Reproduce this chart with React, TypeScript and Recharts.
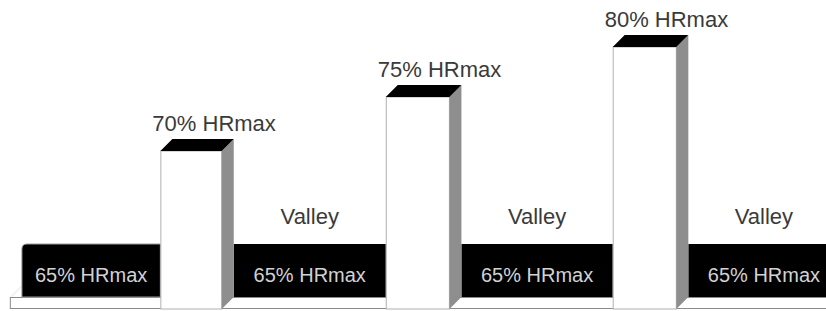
import React from 'react';
import { ComposedChart, XAxis, YAxis, ReferenceArea } from 'recharts';

// Interval profile: alternating valley (65% HRmax) and peak phases
const phases = ['Valley', 'Peak', 'Valley', 'Peak', 'Valley', 'Peak', 'Valley'];
const intensity = [65, 70, 65, 75, 65, 80, 65]; // % HRmax
const durations = [1.83, 0.97, 2.01, 1.0, 2.0, 1.0, 2.0]; // schematic time units
const drawnHeights = [65, 158, 65, 212, 65, 262, 65]; // schematic heights (no axis in the figure)
const valleyTopLabels = ['', '', 'Valley', '', 'Valley', '', 'Valley'];
const floorHeight = 12;
const floorStart = -0.16;
const xDomain: [number, number] = [-0.29, 10.63];
const yDomain: [number, number] = [-2, 309];

const starts: number[] = [];
durations.reduce((acc, d) => {
  starts.push(acc);
  return acc + d;
}, 0);

const rows = phases.map((p, i) => ({
  phase: p,
  start: starts[i],
  end: starts[i] + durations[i],
  intensity: intensity[i],
  h: drawnHeights[i],
  topLabel: p === 'Peak' ? `${intensity[i]}% HRmax` : valleyTopLabels[i],
  innerLabel: p === 'Valley' ? `${intensity[i]}% HRmax` : '',
}));

const FONT = '"Liberation Sans", Arial, Helvetica, sans-serif';
const DX = 12;
const DY = 12;

const FloorShape = (props: any) => {
  const { x, y, width, height } = props;
  return (
    <g>
      <rect x={x + 0.5} y={y + 0.5} width={width + 4} height={height - 1} fill="#ffffff" stroke="#8a8a8a" strokeWidth={1} />
      <polygon points={`${x},${y} ${x + DX},${y - DY} ${x + DX + 2},${y - DY} ${x + 2},${y}`} fill="#eeeeee" />
    </g>
  );
};

const makeValleyShape = (row: any, first: boolean) => (props: any) => {
  const { x, y, width, height } = props;
  const r = first ? 5 : 0;
  const d = `M${x},${y + height} L${x},${y + r} Q${x},${y} ${x + r},${y} L${x + width},${y} L${x + width},${y + height} Z`;
  return (
    <g>
      <path d={d} fill="#000000" stroke={first ? '#9a9a9a' : 'none'} strokeWidth={1} />
      {row.innerLabel ? (
        <text x={x + width / 2} y={y + 38} textAnchor="middle" fontFamily={FONT} fontSize={20} fill="#d2d2d2">
          {row.innerLabel}
        </text>
      ) : null}
      {row.topLabel ? (
        <text x={x + width / 2} y={y - 20} textAnchor="middle" fontFamily={FONT} fontSize={22} fill="#3a3a3a">
          {row.topLabel}
        </text>
      ) : null}
    </g>
  );
};

const makePeakShape = (row: any) => (props: any) => {
  const { x, y, width, height } = props;
  const fw = width - DX;
  const bottom = y + height;
  return (
    <g>
      <rect x={x + 0.5} y={y} width={fw - 0.5} height={height} fill="#ffffff" stroke="#b0b0b0" strokeWidth={1} />
      <polygon
        points={`${x + fw},${y} ${x + width},${y - DY} ${x + width},${bottom - DY} ${x + fw},${bottom}`}
        fill="#8e8e8e"
      />
      <polygon
        points={`${x},${y} ${x + DX},${y - DY} ${x + width},${y - DY} ${x + fw},${y}`}
        fill="#000000"
      />
      <text x={x - 8} y={y - 20} textAnchor="start" fontFamily={FONT} fontSize={22} fill="#3a3a3a">
        {row.topLabel}
      </text>
    </g>
  );
};

export default function App() {
  return (
    <div style={{ position: 'absolute', left: 0, top: 0, width: 826, height: 311, background: '#ffffff' }}>
      <ComposedChart width={826} height={311} data={rows} margin={{ top: 0, right: 0, bottom: 0, left: 0 }}>
        <XAxis type="number" dataKey="start" domain={xDomain} allowDataOverflow hide />
        <YAxis type="number" domain={yDomain} allowDataOverflow hide />
        <ReferenceArea
          x1={floorStart}
          x2={xDomain[1]}
          y1={0}
          y2={floorHeight}
          ifOverflow="visible"
          shape={FloorShape}
        />
        {rows.map((row, i) =>
          row.phase === 'Valley' ? (
            <ReferenceArea
              key={`v${i}`}
              x1={row.start}
              x2={row.end}
              y1={floorHeight}
              y2={row.h}
              ifOverflow="visible"
              shape={makeValleyShape(row, i === 0)}
            />
          ) : null
        )}
        {rows.map((row, i) =>
          row.phase === 'Peak' ? (
            <ReferenceArea
              key={`p${i}`}
              x1={row.start}
              x2={row.end}
              y1={0}
              y2={row.h}
              ifOverflow="visible"
              shape={makePeakShape(row)}
            />
          ) : null
        )}
      </ComposedChart>
    </div>
  );
}
